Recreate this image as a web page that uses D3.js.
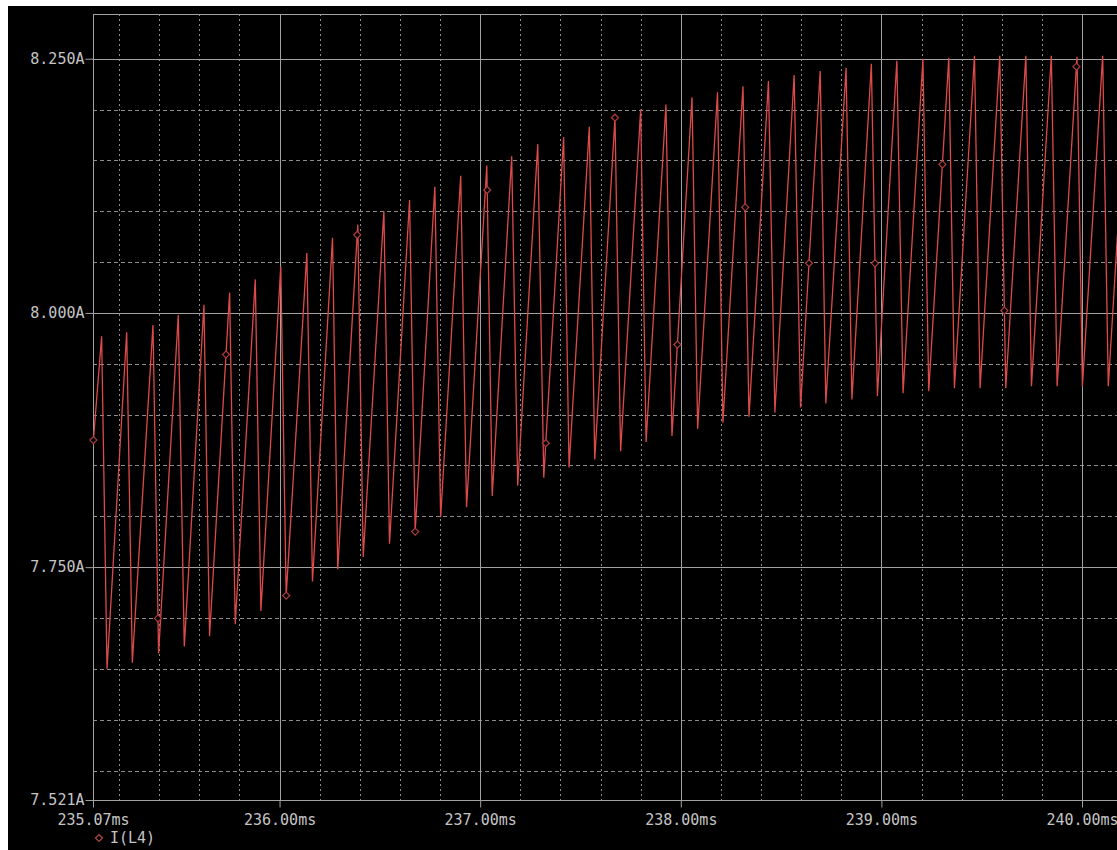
<!DOCTYPE html>
<html><head><meta charset="utf-8">
<script src="https://cdn.jsdelivr.net/npm/d3@7"></script>
<style>html,body{margin:0;padding:0;background:#fff;} svg{display:block;}</style>
</head><body>
<svg id="chart" width="1117" height="850"></svg>
<script>
// ---- data ----
const seriesName = "I(L4)";
const startTime = 235.070, startValue = 7.870;
const peakTimes = [235.113,235.238,235.369,235.495,235.623,235.751,235.879,236.006,236.136,236.264,
  236.390,236.520,236.648,236.774,236.903,237.033,237.157,237.287,237.416,237.544,
  237.672,237.800,237.926,238.056,238.183,238.310,238.437,238.565,238.695,238.824,
  238.950,239.077,239.207,239.336,239.464,239.590,239.720,239.847,239.975,240.103,240.231];
const peakValues = [7.977,7.981,7.988,7.998,8.008,8.020,8.033,8.046,8.059,8.074,
  8.087,8.100,8.111,8.124,8.135,8.145,8.154,8.166,8.173,8.183,
  8.192,8.200,8.205,8.212,8.217,8.223,8.228,8.234,8.238,8.241,
  8.245,8.248,8.250,8.251,8.253,8.253,8.253,8.253,8.252,8.253,8.253];
const troughTimes = [235.140,235.266,235.397,235.525,235.651,235.779,235.907,236.033,236.164,236.290,
  236.417,236.548,236.676,236.803,236.932,237.060,237.187,237.317,237.443,237.571,
  237.700,237.827,237.956,238.084,238.210,238.340,238.469,238.597,238.723,238.853,
  238.980,239.108,239.236,239.364,239.492,239.620,239.748,239.876,240.002,240.131];
const troughValues = [7.650,7.656,7.665,7.672,7.682,7.694,7.707,7.722,7.736,7.748,
  7.760,7.773,7.785,7.799,7.809,7.820,7.830,7.838,7.848,7.856,
  7.864,7.873,7.879,7.886,7.892,7.898,7.902,7.907,7.911,7.915,
  7.918,7.921,7.923,7.926,7.926,7.926,7.928,7.928,7.928,7.928];
const markerTimes = [235.072,235.394,235.733,236.033,236.387,236.676,237.035,237.327,
  237.672,237.983,238.321,238.639,238.968,239.304,239.613,239.972];

const xTickValues = [235.07, 236, 237, 238, 239, 240];
const xMajorGrid = [236, 237, 238, 239, 240];
const xMinorGrid = [235.2,235.4,235.6,235.8,236.2,236.4,236.6,236.8,237.2,237.4,237.6,237.8,
  238.2,238.4,238.6,238.8,239.2,239.4,239.6,239.8,240.2];
const yTickValues = [7.521, 7.75, 8.0, 8.25];
const yMajorGrid = [7.75, 8.0, 8.25];
const yMinorGrid = [7.55,7.60,7.65,7.70,7.80,7.85,7.90,7.95,8.05,8.10,8.15,8.20];

// ---- layout ----
const W = 1117, H = 850;
const plot = {left: 93, top: 14, right: 1117, bottom: 800};
const svg = d3.select("#chart");
const FONT = "'DejaVu Sans Mono', monospace";
const TXT = "#c4c4c4", GRID = "#a2a2a2", DASH = "#8c8c8c";

svg.append("rect").attr("x", 8).attr("y", 6).attr("width", W - 8).attr("height", H - 6).attr("fill", "#000");

const x = d3.scaleLinear().domain([235.07, 240.1744]).range([plot.left, plot.right]);
const y = d3.scaleLinear().domain([7.521, 8.294]).range([plot.bottom, plot.top]);

// minor dashed grid
svg.append("g").selectAll("line").data(yMinorGrid).join("line")
  .attr("x1", plot.left).attr("x2", plot.right)
  .attr("y1", d => Math.round(y(d)) + 0.5).attr("y2", d => Math.round(y(d)) + 0.5)
  .attr("stroke", DASH).attr("stroke-width", 1).attr("stroke-dasharray", "4,3");
svg.append("g").selectAll("line").data(xMinorGrid).join("line")
  .attr("x1", d => Math.round(x(d)) + 0.5).attr("x2", d => Math.round(x(d)) + 0.5)
  .attr("y1", plot.top).attr("y2", plot.bottom)
  .attr("stroke", DASH).attr("stroke-width", 1).attr("stroke-dasharray", "2,3");
// major solid grid
svg.append("g").selectAll("line").data(yMajorGrid).join("line")
  .attr("x1", plot.left).attr("x2", plot.right)
  .attr("y1", d => Math.round(y(d)) + 0.5).attr("y2", d => Math.round(y(d)) + 0.5)
  .attr("stroke", GRID).attr("stroke-width", 1);
svg.append("g").selectAll("line").data(xMajorGrid).join("line")
  .attr("x1", d => Math.round(x(d)) + 0.5).attr("x2", d => Math.round(x(d)) + 0.5)
  .attr("y1", plot.top).attr("y2", plot.bottom)
  .attr("stroke", GRID).attr("stroke-width", 1);
// top frame
svg.append("line").attr("x1", plot.left).attr("x2", plot.right)
  .attr("y1", plot.top + 0.5).attr("y2", plot.top + 0.5).attr("stroke", GRID);

// axes
const yAxis = d3.axisLeft(y).tickValues(yTickValues).tickSize(8).tickPadding(1)
  .tickFormat(d => d3.format(".3f")(d) + "A");
const gy = svg.append("g").attr("transform", `translate(${plot.left + 0.5},0)`).call(yAxis);
const xAxis = d3.axisBottom(x).tickValues(xTickValues).tickSize(7).tickPadding(7)
  .tickFormat(d => d3.format(".2f")(d) + "ms");
const gx = svg.append("g").attr("transform", `translate(0,${plot.bottom + 0.5})`).call(xAxis);
[gx, gy].forEach(g => {
  g.select(".domain").attr("stroke", GRID);
  g.selectAll(".tick line").attr("stroke", GRID);
  g.selectAll(".tick text").attr("fill", TXT).attr("font-family", FONT).attr("font-size", 15);
});
gy.select(".domain").attr("d", `M0,${plot.top}V${plot.bottom + 7}`);
gx.select(".domain").attr("d", `M${plot.left},0H${plot.right}`);

// trace
const trace = [[startTime, startValue]];
peakTimes.forEach((t, i) => {
  trace.push([t, peakValues[i]]);
  if (i < troughTimes.length) trace.push([troughTimes[i], troughValues[i]]);
});
svg.append("clipPath").attr("id", "clip").append("rect")
  .attr("x", plot.left).attr("y", plot.top).attr("width", plot.right - plot.left).attr("height", plot.bottom - plot.top);
const line = d3.line().x(d => x(d[0])).y(d => y(d[1]));
svg.append("path").datum(trace).attr("clip-path", "url(#clip)")
  .attr("d", line).attr("fill", "none").attr("stroke", "#dc4a4a").attr("stroke-width", 1.3)
  .attr("stroke-linejoin", "miter");

// markers on the trace
const bis = d3.bisector(d => d[0]).left;
function valueAt(t) {
  const i = Math.max(1, Math.min(trace.length - 1, bis(trace, t)));
  const a = trace[i - 1], b = trace[i];
  return a[1] + (b[1] - a[1]) * (t - a[0]) / (b[0] - a[0]);
}
const diamond = "M0,-3.5L3.5,0L0,3.5L-3.5,0Z";
svg.append("g").selectAll("path").data(markerTimes).join("path")
  .attr("transform", d => `translate(${x(d)},${y(valueAt(d))})`)
  .attr("d", diamond).attr("fill", "#000").attr("stroke", "#b03c3c").attr("stroke-width", 1.2);

// legend
const lg = svg.append("g").attr("transform", "translate(99,838)");
lg.append("path").attr("d", diamond).attr("fill", "#000").attr("stroke", "#b04848").attr("stroke-width", 1.2);
lg.append("text").attr("x", 11).attr("dy", "0.35em").attr("fill", TXT)
  .attr("font-family", FONT).attr("font-size", 15).text(seriesName);
</script>
</body></html>
